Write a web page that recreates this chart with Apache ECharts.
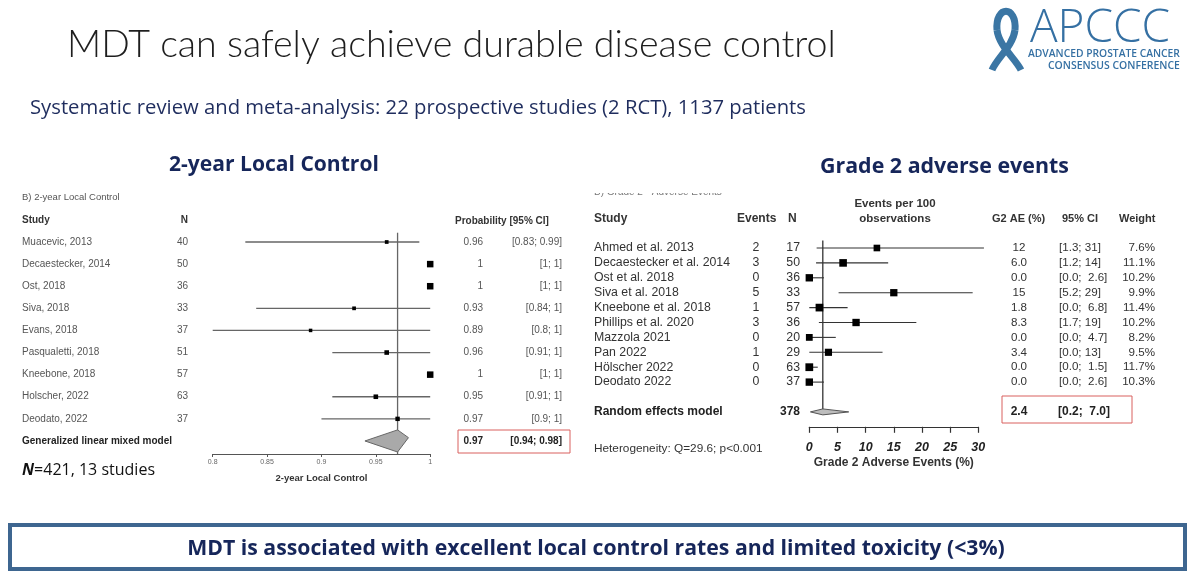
<!DOCTYPE html>
<html><head><meta charset="utf-8">
<script src="https://cdn.jsdelivr.net/npm/echarts@6/dist/echarts.min.js"></script>
<style>html,body{margin:0;padding:0;background:#fff}#c{width:1200px;height:579px}</style>
</head><body><div id="c"></div>
<script>
// ---------- Left panel: 2-year Local Control ----------
const lcStudies = ['Muacevic, 2013', 'Decaestecker, 2014', 'Ost, 2018', 'Siva, 2018', 'Evans, 2018', 'Pasqualetti, 2018', 'Kneebone, 2018', 'Holscher, 2022', 'Deodato, 2022'];
const lcN = [40, 50, 36, 33, 37, 51, 57, 63, 37];
const lcEst = [0.96, 1, 1, 0.93, 0.89, 0.96, 1, 0.95, 0.97];
const lcLow = [0.83, 1, 1, 0.84, 0.8, 0.91, 1, 0.91, 0.9];
const lcHigh = [0.99, 1, 1, 1, 1, 1, 1, 1, 1];
const lcEstLabels = ['0.96', '1', '1', '0.93', '0.89', '0.96', '1', '0.95', '0.97'];
const lcCILabels = ['[0.83; 0.99]', '[1; 1]', '[1; 1]', '[0.84; 1]', '[0.8; 1]', '[0.91; 1]', '[1; 1]', '[0.91; 1]', '[0.9; 1]'];
const lcPooled = [0.97, 0.94, 0.98];
const lcPooledLabels = ['0.97', '[0.94; 0.98]'];
const lcTickLabels = ['0.8', '0.85', '0.9', '0.95', '1'];

// ---------- Right panel: Grade 2 adverse events ----------
const aeStudies = ['Ahmed et al. 2013', 'Decaestecker et al. 2014', 'Ost et al. 2018', 'Siva et al. 2018', 'Kneebone et al. 2018', 'Phillips et al. 2020', 'Mazzola 2021', 'Pan 2022', 'Hölscher 2022', 'Deodato 2022'];
const aeEvents = [2, 3, 0, 5, 1, 3, 0, 1, 0, 0];
const aeN = [17, 50, 36, 33, 57, 36, 20, 29, 63, 37];
const aeEst = [12, 6.0, 0.0, 15, 1.8, 8.3, 0.0, 3.4, 0.0, 0.0];
const aeLow = [1.3, 1.2, 0.0, 5.2, 0.0, 1.7, 0.0, 0.0, 0.0, 0.0];
const aeHigh = [31, 14, 2.6, 29, 6.8, 19, 4.7, 13, 1.5, 2.6];
const aeWeight = [7.6, 11.1, 10.2, 9.9, 11.4, 10.2, 8.2, 9.5, 11.7, 10.3];
const aeEstLabels = ['12', '6.0', '0.0', '15', '1.8', '8.3', '0.0', '3.4', '0.0', '0.0'];
const aeCILabels = ['[1.3; 31]', '[1.2; 14]', '[0.0;  2.6]', '[5.2; 29]', '[0.0;  6.8]', '[1.7; 19]', '[0.0;  4.7]', '[0.0; 13]', '[0.0;  1.5]', '[0.0;  2.6]'];
const aeWeightLabels = ['7.6%', '11.1%', '10.2%', '9.9%', '11.4%', '10.2%', '8.2%', '9.5%', '11.7%', '10.3%'];
const aePooled = [2.4, 0.2, 7.0];
const aePooledLabels = ['2.4', '[0.2;  7.0]'];
const aeTotalN = 378;
const aeTickLabels = ['0', '5', '10', '15', '20', '25', '30'];

// ---------- helpers ----------
const ARIAL = '"Liberation Sans", Arial, sans-serif';
const SANS = '"Open Sans", "Noto Sans", sans-serif';
const mctx = document.createElement('canvas').getContext('2d');
function fit(text, family, weight, style, target) {
  mctx.font = (style || 'normal') + ' ' + weight + ' 100px ' + family;
  return 100 * target / mctx.measureText(text).width;
}
const graphics = [];
function txt(text, x, y, o) {
  graphics.push({
    type: 'text', x: x, y: y, silent: true, z: 10,
    style: Object.assign({ text: text, align: 'left', verticalAlign: 'middle', fill: '#333', fontFamily: ARIAL, fontSize: 10 }, o || {})
  });
}
function fitTxt(text, x, y, family, weight, target, o) {
  const fs = fit(text, family, weight, (o && o.fontStyle) || 'normal', target);
  txt(text, x, y, Object.assign({ fontFamily: family, fontWeight: weight, fontSize: fs }, o || {}));
}

// Slide titles
fitTxt('MDT can safely achieve durable disease control', 67, 45, '"Lato", "Open Sans", sans-serif', 300, 769, { fill: '#1e1e1e' });
fitTxt('Systematic review and meta-analysis: 22 prospective studies (2 RCT), 1137 patients', 30, 108, SANS, 400, 776, { fill: '#1f2d5e' });
fitTxt('2-year Local Control', 169, 165, SANS, 700, 210, { fill: '#16265a' });
fitTxt('Grade 2 adverse events', 820, 167, SANS, 700, 249, { fill: '#16265a' });

// Logo (awareness ribbon + wordmark)
[
  { x1: 992, y1: 70, cpx1: 997, cpy1: 58, cpx2: 1013, cpy2: 46, x2: 1015, y2: 30 },
  { x1: 1015, y1: 30, cpx1: 1017, cpy1: 5, cpx2: 995, cpy2: 5, x2: 997, y2: 30 },
  { x1: 997, y1: 30, cpx1: 999, cpy1: 46, cpx2: 1015, cpy2: 58, x2: 1021, y2: 70 }
].forEach(s => graphics.push({ type: 'bezierCurve', silent: true, z: 10, shape: s, style: { stroke: '#3b76a4', lineWidth: 7, fill: null } }));
fitTxt('APCCC', 1030, 29, SANS, 300, 140, { fill: '#3570a3' });
fitTxt('ADVANCED PROSTATE CANCER', 1028, 54, SANS, 600, 152, { fill: '#3570a3' });
fitTxt('CONSENSUS CONFERENCE', 1048, 66, SANS, 600, 132, { fill: '#3570a3' });

// Left table headers / notes
txt('B) 2-year Local Control', 22, 197, { fontSize: 9.5, fill: '#555' });
txt('Study', 22, 220, { fontWeight: 'bold', fill: '#333' });
txt('N', 188, 220, { fontWeight: 'bold', align: 'right', fill: '#333' });
txt('Probability [95% CI]', 455, 221, { fontWeight: 'bold', fill: '#333' });
graphics.push({ type: 'rect', silent: true, z: 9, shape: { x: 458, y: 430, width: 112, height: 23 }, style: { fill: null, stroke: '#d9605f', lineWidth: 1 } });
graphics.push({
  type: 'text', x: 22, y: 470, silent: true, z: 10,
  style: {
    text: '{i|N}=421, 13 studies', verticalAlign: 'middle', fill: '#111', fontFamily: SANS, fontSize: 16,
    rich: { i: { fontStyle: 'italic', fontWeight: 'bold', fontFamily: SANS, fontSize: 16, fill: '#111' } }
  }
});

// Right table headers / notes
txt('B) Grade 2 - Adverse Events', 594, 192, { fontSize: 10, fill: '#777' });
graphics.push({ type: 'rect', silent: true, z: 11, shape: { x: 585, y: 180, width: 180, height: 13 }, style: { fill: '#fff' } });
txt('Study', 594, 219, { fontWeight: 'bold', fontSize: 12, fill: '#333' });
txt('Events', 737, 219, { fontWeight: 'bold', fontSize: 12, fill: '#333' });
txt('N', 788, 219, { fontWeight: 'bold', fontSize: 12, fill: '#333' });
txt('Events per 100', 895, 204, { fontWeight: 'bold', fontSize: 11.5, fill: '#333', align: 'center' });
txt('observations', 895, 219, { fontWeight: 'bold', fontSize: 11.5, fill: '#333', align: 'center' });
txt('G2 AE (%)', 992, 219, { fontWeight: 'bold', fontSize: 11, fill: '#333' });
txt('95% CI', 1062, 219, { fontWeight: 'bold', fontSize: 11, fill: '#333' });
txt('Weight', 1119, 219, { fontWeight: 'bold', fontSize: 11, fill: '#333' });
graphics.push({ type: 'rect', silent: true, z: 9, shape: { x: 1002, y: 396, width: 130, height: 27 }, style: { fill: null, stroke: '#d9605f', lineWidth: 1 } });
txt('Heterogeneity: Q=29.6; p<0.001', 594, 449, { fontSize: 11.8, fill: '#333' });

// Bottom banner
graphics.push({ type: 'rect', silent: true, z: 9, shape: { x: 10, y: 525, width: 1175, height: 44 }, style: { fill: '#fff', stroke: '#3e6690', lineWidth: 4 } });
(function () {
  const t = 'MDT is associated with excellent local control rates and limited toxicity (<3%)';
  const fs = fit(t, SANS, 700, 'normal', 818);
  txt(t, 596, 549, { fontFamily: SANS, fontWeight: 700, fontSize: fs, fill: '#16265a', align: 'center' });
})();

// ---------- series render functions ----------
function lcForest(params, api) {
  const row = api.value(1);
  const c = api.coord([api.value(0), row]);
  const lo = api.coord([api.value(2), row]);
  const hi = api.coord([api.value(3), row]);
  const w = api.value(3) - api.value(2);
  const s = w > 0 ? 2.6 + 0.18 / w : 6.5;
  const ch = [];
  if (w > 0) ch.push({ type: 'line', shape: { x1: lo[0], y1: c[1], x2: hi[0], y2: c[1] }, style: { stroke: '#666', lineWidth: 1.3 } });
  ch.push({ type: 'rect', shape: { x: c[0] - s / 2, y: c[1] - s / 2, width: s, height: s }, style: { fill: '#000' } });
  return { type: 'group', children: ch };
}
function lcRef(params, api) {
  const a = api.coord([api.value(0), -0.42]);
  const b = api.coord([api.value(0), lcStudies.length + 0.59]);
  return { type: 'line', shape: { x1: a[0], y1: a[1], x2: b[0], y2: b[1] }, style: { stroke: '#666', lineWidth: 1.3 } };
}
function lcDiamond(params, api) {
  const row = api.value(3);
  const e = api.value(0), l = api.value(1), h = api.value(2);
  const pts = [api.coord([l, row]), api.coord([e, row - 0.5]), api.coord([h, row - 0.15]), api.coord([e, row + 0.5])];
  return { type: 'polygon', shape: { points: pts }, style: { fill: '#a9a9a9', stroke: '#666', lineWidth: 1 } };
}
function lcTable(params, api) {
  const i = api.value(0);
  const y = api.coord([0.9, i])[1];
  const base = { fontFamily: ARIAL, fontSize: 10, verticalAlign: 'middle', fill: '#555' };
  const T = (text, x, al) => ({ type: 'text', x: x, y: y, style: Object.assign({ text: text, align: al }, base) });
  return { type: 'group', children: [T(lcStudies[i], 22, 'left'), T(String(lcN[i]), 188, 'right'), T(lcEstLabels[i], 483, 'right'), T(lcCILabels[i], 562, 'right')] };
}
function lcPooledText(params, api) {
  const y = api.coord([0.9, lcStudies.length])[1];
  const base = { fontFamily: ARIAL, fontSize: 10, fontWeight: 'bold', verticalAlign: 'middle', fill: '#222' };
  return {
    type: 'group', children: [
      { type: 'text', x: 22, y: y, style: Object.assign({ text: 'Generalized linear mixed model', align: 'left' }, base) },
      { type: 'text', x: 483, y: y, style: Object.assign({ text: lcPooledLabels[0], align: 'right' }, base) },
      { type: 'text', x: 562, y: y, style: Object.assign({ text: lcPooledLabels[1], align: 'right' }, base) }
    ]
  };
}

function aeForest(params, api) {
  const row = api.value(1);
  const c = api.coord([api.value(0), row]);
  const lo = api.coord([api.value(2), row]);
  const hi = api.coord([api.value(3), row]);
  const s = 4.5 + 0.28 * api.value(4);
  return {
    type: 'group', children: [
      { type: 'line', shape: { x1: lo[0], y1: c[1], x2: hi[0], y2: c[1] }, style: { stroke: '#333', lineWidth: 1.1 } },
      { type: 'rect', shape: { x: c[0] - s / 2, y: c[1] - s / 2, width: s, height: s }, style: { fill: '#000' } }
    ]
  };
}
function aeRef(params, api) {
  const a = api.coord([api.value(0), -0.5]);
  const b = api.coord([api.value(0), aeStudies.length + 1.15]);
  return { type: 'line', shape: { x1: a[0], y1: a[1], x2: b[0], y2: b[1] }, style: { stroke: '#222', lineWidth: 1.2 } };
}
function aeDiamond(params, api) {
  const row = api.value(3);
  const e = api.value(0), l = api.value(1), h = api.value(2);
  const pts = [api.coord([l, row]), api.coord([e, row - 0.2]), api.coord([h, row]), api.coord([e, row + 0.2])];
  return { type: 'polygon', shape: { points: pts }, style: { fill: '#bdbdbd', stroke: '#555', lineWidth: 1 } };
}
function aeTable(params, api) {
  const i = api.value(0);
  const y = api.coord([0, i])[1];
  const mk = (text, x, al, fs) => ({ type: 'text', x: x, y: y, style: { text: text, align: al, fontFamily: ARIAL, fontSize: fs, verticalAlign: 'middle', fill: '#333' } });
  return {
    type: 'group', children: [
      mk(aeStudies[i], 594, 'left', 12.3), mk(String(aeEvents[i]), 756, 'center', 12.3), mk(String(aeN[i]), 800, 'right', 12.3),
      mk(aeEstLabels[i], 1019, 'center', 11.6), mk(aeCILabels[i], 1059, 'left', 11.6), mk(aeWeightLabels[i], 1155, 'right', 11.6)
    ]
  };
}
function aePooledText(params, api) {
  const y = api.coord([0, aeStudies.length + 1])[1];
  const base = { fontFamily: ARIAL, fontSize: 12, fontWeight: 'bold', verticalAlign: 'middle', fill: '#222' };
  return {
    type: 'group', children: [
      { type: 'text', x: 594, y: y, style: Object.assign({ text: 'Random effects model', align: 'left' }, base) },
      { type: 'text', x: 800, y: y, style: Object.assign({ text: String(aeTotalN), align: 'right' }, base) },
      { type: 'text', x: 1019, y: y, style: Object.assign({ text: aePooledLabels[0], align: 'center' }, base) },
      { type: 'text', x: 1058, y: y, style: Object.assign({ text: aePooledLabels[1], align: 'left' }, base) }
    ]
  };
}

const idxL = lcStudies.map((_, i) => [i]);
const idxR = aeStudies.map((_, i) => [i]);

const option = {
  animation: false,
  backgroundColor: '#fff',
  textStyle: { fontFamily: ARIAL },
  grid: [
    { left: 212.7, top: 219.9, width: 217.5, height: 234.1 },
    { left: 809.3, top: 233.1, width: 169, height: 193.7 }
  ],
  xAxis: [
    {
      gridIndex: 0, type: 'value', min: 0.8, max: 1, interval: 0.05,
      axisLine: { show: true, onZero: false, lineStyle: { color: '#555', width: 1 } },
      axisTick: { show: true, length: 3, lineStyle: { color: '#555' } },
      axisLabel: { fontSize: 7, color: '#666', margin: 5, formatter: v => lcTickLabels[Math.round((v - 0.8) / 0.05)] },
      splitLine: { show: false },
      name: '2-year Local Control', nameLocation: 'middle', nameGap: 19,
      nameTextStyle: { fontSize: 9.5, fontWeight: 'bold', color: '#333', fontFamily: ARIAL }
    },
    {
      gridIndex: 1, type: 'value', min: 0, max: 30, interval: 5,
      axisLine: { show: true, onZero: false, lineStyle: { color: '#333', width: 1.2 } },
      axisTick: { show: true, length: 6, lineStyle: { color: '#333', width: 1.2 } },
      axisLabel: { fontSize: 12.5, color: '#222', fontStyle: 'italic', fontWeight: 'bold', margin: 14, formatter: v => aeTickLabels[Math.round(v / 5)] },
      splitLine: { show: false },
      name: 'Grade 2 Adverse Events (%)', nameLocation: 'middle', nameGap: 30,
      nameTextStyle: { fontSize: 12, fontWeight: 'bold', color: '#333', fontFamily: ARIAL }
    }
  ],
  yAxis: [
    { gridIndex: 0, type: 'value', min: -1, max: 9.59, inverse: true, show: false, splitLine: { show: false } },
    { gridIndex: 1, type: 'value', min: -1, max: 12, inverse: true, show: false, splitLine: { show: false } }
  ],
  series: [
    { type: 'custom', name: 'lcRef', xAxisIndex: 0, yAxisIndex: 0, silent: true, renderItem: lcRef, data: [[lcPooled[0]]] },
    { type: 'custom', name: 'lcDiamond', xAxisIndex: 0, yAxisIndex: 0, silent: true, renderItem: lcDiamond, data: [[lcPooled[0], lcPooled[1], lcPooled[2], lcStudies.length]] },
    { type: 'custom', name: 'lcForest', xAxisIndex: 0, yAxisIndex: 0, silent: true, renderItem: lcForest, data: lcEst.map((e, i) => [e, i, lcLow[i], lcHigh[i]]) },
    { type: 'custom', name: 'lcTable', xAxisIndex: 0, yAxisIndex: 0, silent: true, renderItem: lcTable, data: idxL },
    { type: 'custom', name: 'lcPooledText', xAxisIndex: 0, yAxisIndex: 0, silent: true, renderItem: lcPooledText, data: [[0]] },
    { type: 'custom', name: 'aeRef', xAxisIndex: 1, yAxisIndex: 1, silent: true, renderItem: aeRef, data: [[aePooled[0]]] },
    { type: 'custom', name: 'aeDiamond', xAxisIndex: 1, yAxisIndex: 1, silent: true, renderItem: aeDiamond, data: [[aePooled[0], aePooled[1], aePooled[2], aeStudies.length + 1]] },
    { type: 'custom', name: 'aeForest', xAxisIndex: 1, yAxisIndex: 1, silent: true, renderItem: aeForest, data: aeEst.map((e, i) => [e, i, aeLow[i], aeHigh[i], aeWeight[i]]) },
    { type: 'custom', name: 'aeTable', xAxisIndex: 1, yAxisIndex: 1, silent: true, renderItem: aeTable, data: idxR },
    { type: 'custom', name: 'aePooledText', xAxisIndex: 1, yAxisIndex: 1, silent: true, renderItem: aePooledText, data: [[0]] }
  ],
  graphic: { elements: graphics }
};
const chart = echarts.init(document.getElementById('c'), null, { renderer: 'canvas', width: 1200, height: 579 });
chart.setOption(option);
</script>
</body></html>
